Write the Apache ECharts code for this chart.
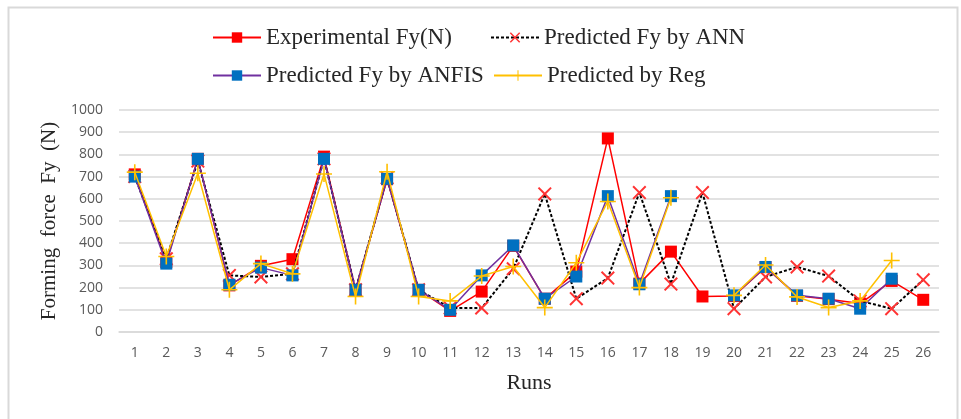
<!DOCTYPE html>
<html>
<head>
<meta charset="utf-8">
<script src="https://cdn.jsdelivr.net/npm/echarts@6/dist/echarts.min.js"></script>
<style>
html,body{margin:0;padding:0;background:#fff;}
#chart{width:961px;height:419px;}
</style>
</head>
<body>
<div id="chart"></div>
<script>
var runs = ['1','2','3','4','5','6','7','8','9','10','11','12','13','14','15','16','17','18','19','20','21','22','23','24','25','26'];
var yTicks = [0,100,200,300,400,500,600,700,800,900,1000];
var experimental = [710,315,780,210,298,328,790,190,688,190,95,182,388,150,272,872,218,362,160,162,292,163,148,128,230,145];
var predANN      = [700,330,770,255,248,262,780,190,695,190,108,108,285,622,150,243,628,216,628,105,248,293,252,140,105,235];
var predANFIS    = [700,308,780,213,290,255,780,190,690,190,100,255,390,150,250,612,215,612,null,165,293,165,150,105,240,null];
var predReg      = [720,340,715,190,308,262,712,160,722,160,140,252,295,110,312,588,200,605,null,165,302,158,110,140,322,null];

var names = ['Experimental Fy(N)','Predicted Fy by ANN','Predicted Fy by ANFIS','Predicted by Reg'];

var crossPath = 'path://M0,1 L1,0 L5,4 L9,0 L10,1 L6,5 L10,9 L9,10 L5,6 L1,10 L0,9 L4,5 Z';
var plusPath = 'path://M4.5,0 L5.5,0 L5.5,4.5 L10,4.5 L10,5.5 L5.5,5.5 L5.5,10 L4.5,10 L4.5,5.5 L0,5.5 L0,4.5 L4.5,4.5 Z';

var serif = '"Liberation Serif", "Times New Roman", serif';
var sans = '"Open Sans", "Liberation Sans", sans-serif';
var legendText = {fontFamily: serif, fontSize: 23, color: '#262626'};

function legendAt(name, left, top) {
  return {
    data: [name], left: left, top: top, orient: 'horizontal', padding: 0,
    itemWidth: 48, itemHeight: 13, textStyle: legendText, selectedMode: false
  };
}

var chart = echarts.init(document.getElementById('chart'), null, {renderer: 'canvas'});
chart.setOption({
  animation: false,
  backgroundColor: '#ffffff',
  graphic: [{
    type: 'rect', left: 6, top: 5, shape: {width: 949, height: 420},
    style: {fill: 'none', stroke: '#d9d9d9', lineWidth: 2}, z: -1
  }],
  legend: [
    legendAt(names[0], 212, 26),
    legendAt(names[1], 490, 26),
    legendAt(names[2], 212, 64),
    legendAt(names[3], 493, 64)
  ],
  grid: {left: 119, right: 22, top: 110, bottom: 87, containLabel: false},
  xAxis: {
    type: 'category', data: runs, boundaryGap: true,
    name: 'Runs', nameLocation: 'middle', nameGap: 40,
    nameTextStyle: {fontFamily: serif, fontSize: 22, color: '#262626'},
    axisLine: {lineStyle: {color: '#d9d9d9', width: 1.5}},
    axisTick: {show: false},
    axisLabel: {margin: 14, fontFamily: sans, fontSize: 14, color: '#595959'}
  },
  yAxis: {
    type: 'value', min: 0, max: 1000, interval: 100,
    name: 'Forming  force  Fy  (N)', nameLocation: 'middle', nameGap: 58,
    nameTextStyle: {fontFamily: serif, fontSize: 21, color: '#262626'},
    axisLine: {show: false}, axisTick: {show: false},
    axisLabel: {margin: 16, fontFamily: sans, fontSize: 14, color: '#595959',
      formatter: function (v) { return yTicks.indexOf(v) >= 0 ? String(v) : ''; }},
    splitLine: {lineStyle: {color: '#d9d9d9', width: 1.5}}
  },
  series: [
    {
      name: names[0], type: 'line', data: experimental,
      symbol: 'rect', symbolSize: 12,
      lineStyle: {color: '#ff0000', width: 1.5},
      itemStyle: {color: '#ff0000'}, z: 2
    },
    {
      name: names[1], type: 'line', data: predANN,
      symbol: crossPath, symbolSize: 14,
      lineStyle: {color: '#000000', width: 2, type: [3, 2]},
      itemStyle: {color: '#ff3333'}, z: 3
    },
    {
      name: names[2], type: 'line', data: predANFIS, connectNulls: false,
      symbol: 'rect', symbolSize: 12,
      lineStyle: {color: '#7030a0', width: 1.5},
      itemStyle: {color: '#0070c0'}, z: 4
    },
    {
      name: names[3], type: 'line', data: predReg, connectNulls: false,
      symbol: plusPath, symbolSize: 16,
      lineStyle: {color: '#ffc000', width: 1.5},
      itemStyle: {color: '#ffc000'}, z: 5
    }
  ]
});
</script>
</body>
</html>
